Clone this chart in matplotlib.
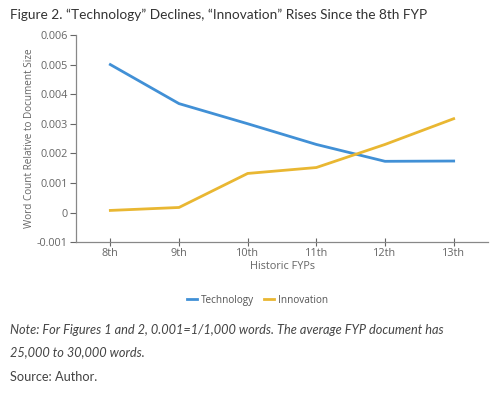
import numpy as np
import matplotlib.pyplot as plt

plt.rcParams['font.family'] = ['Open Sans', 'DejaVu Sans']

fyps = ['8th', '9th', '10th', '11th', '12th', '13th']
technology = [0.0050, 0.00368, 0.0030, 0.0023, 0.00173, 0.00174]
innovation = [0.00007, 0.00017, 0.00132, 0.00152, 0.0023, 0.00317]

blue = '#4190d6'
yellow = '#e9b732'
grey = '#666666'

fig = plt.figure(figsize=(5, 3.93), dpi=100)
ax = fig.add_axes([0.152, 0.384, 0.824, 0.527])

x = np.arange(len(fyps))
ax.plot(x, technology, color=blue, lw=2, label='Technology')
ax.plot(x, innovation, color=yellow, lw=2, label='Innovation')

ax.set_xlim(-0.5, len(fyps) - 0.5)
ax.set_ylim(-0.001, 0.006)
ax.set_yticks([-0.001, 0, 0.001, 0.002, 0.003, 0.004, 0.005, 0.006])
ax.set_yticklabels(['-0.001', '0', '0.001', '0.002', '0.003', '0.004', '0.005', '0.006'])
ax.set_xticks(x)
ax.set_xticklabels(fyps)
ax.tick_params(colors=grey, labelsize=7.8, length=4, width=0.8, pad=2)
ax.tick_params(axis='x', direction='inout', length=6, pad=1)
for s in ['top', 'right']:
    ax.spines[s].set_visible(False)
for s in ['left', 'bottom']:
    ax.spines[s].set_color('#888888')
    ax.spines[s].set_linewidth(0.9)

ax.set_xlabel('Historic FYPs', fontsize=7.8, color=grey, labelpad=2)
ax.set_ylabel('Word Count Relative to Document Size', fontsize=7.2, color=grey, labelpad=1)

leg = ax.legend(loc='upper center', bbox_to_anchor=(0.44, -0.21), ncol=2, frameon=False,
                fontsize=7.2, handlelength=1.0, handletextpad=0.4, columnspacing=1.0)
for t in leg.get_texts():
    t.set_color('#555555')

title = 'Figure 2. \u201cTechnology\u201d Declines, \u201cInnovation\u201d Rises Since the 8th FYP'
fig.text(0.02, 0.962, title, fontsize=9.8, color='#333333',
         family=['Lato', 'DejaVu Sans'], va='center')
fig.text(0.02, 0.16, 'Note: For Figures 1 and 2, 0.001=1/1,000 words. The average FYP document has',
         fontsize=9.2, style='italic', color='#444444', family=['Lato', 'DejaVu Sans'], va='center')
fig.text(0.02, 0.103, '25,000 to 30,000 words.',
         fontsize=9.2, style='italic', color='#444444', family=['Lato', 'DejaVu Sans'], va='center')
fig.text(0.02, 0.04, 'Source: Author.',
         fontsize=9.2, color='#444444', family=['Lato', 'DejaVu Sans'], va='center')

fig.savefig('out.png', dpi=100)
